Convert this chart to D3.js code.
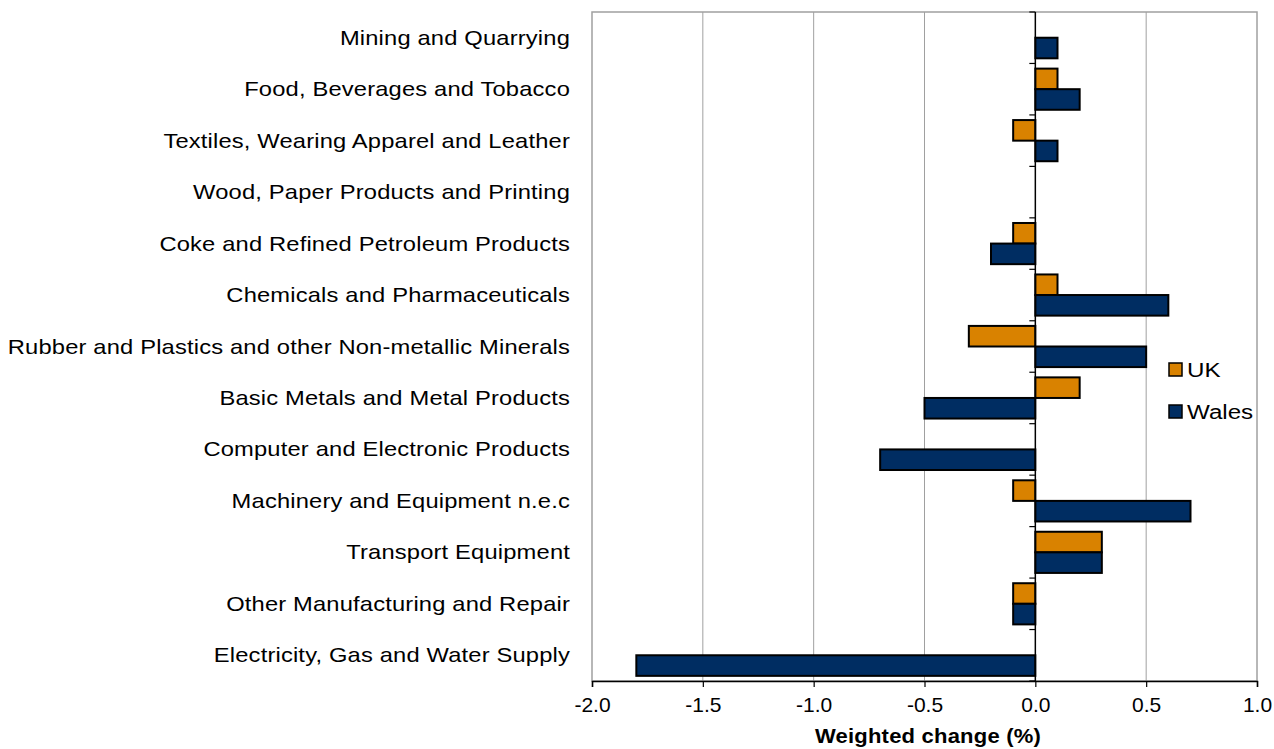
<!DOCTYPE html>
<html>
<head>
<meta charset="utf-8">
<style>
  body { margin: 0; background: #fff; }
  svg text { font-family: "Liberation Sans", Arial, sans-serif; fill: #000; }
</style>
</head>
<body>
<svg width="1274" height="749"></svg>
<script src="https://d3js.org/d3.v7.min.js"></script>
<script>
// categories, top to bottom
var categories = [
  "Mining and Quarrying",
  "Food, Beverages and Tobacco",
  "Textiles, Wearing Apparel and Leather",
  "Wood, Paper Products and Printing",
  "Coke and Refined Petroleum Products",
  "Chemicals and Pharmaceuticals",
  "Rubber and Plastics and other Non-metallic Minerals",
  "Basic Metals and Metal Products",
  "Computer and Electronic Products",
  "Machinery and Equipment n.e.c",
  "Transport Equipment",
  "Other Manufacturing and Repair",
  "Electricity, Gas and Water Supply"
];
var seriesNames = ["UK", "Wales"];
var ukValues    = [0, 0.1, -0.1, 0, -0.1, 0.1, -0.3, 0.2, 0, -0.1, 0.3, -0.1, 0];
var walesValues = [0.1, 0.2, 0.1, 0, -0.2, 0.6, 0.5, -0.5, -0.7, 0.7, 0.3, -0.1, -1.8];
var tickValues  = [-2.0, -1.5, -1.0, -0.5, 0.0, 0.5, 1.0];
var colors = {UK: "#d98200", Wales: "#002d62"};

var svg = d3.select("svg");
var plot = {left: 592, right: 1257, top: 12, bottom: 681};

var x = d3.scaleLinear().domain([-2, 1]).range([plot.left, plot.right]);
var y = d3.scaleBand().domain(categories).range([plot.top, plot.bottom]).paddingInner(0.2).paddingOuter(0.1);
var ySub = d3.scaleBand().domain(seriesNames).range([0, y.bandwidth()]);

var rows = categories.map(function(c, i) {
  return {cat: c, UK: ukValues[i], Wales: walesValues[i]};
});

// plot frame
svg.append("rect")
  .attr("x", plot.left).attr("y", plot.top)
  .attr("width", plot.right - plot.left).attr("height", plot.bottom - plot.top)
  .attr("fill", "none").attr("stroke", "#a0a0a0").attr("stroke-width", 1.5);

// vertical gridlines
svg.append("g").selectAll("line")
  .data(tickValues.filter(function(t) { return t !== 0 && t !== -2 && t !== 1; }))
  .enter().append("line")
  .attr("x1", function(d) { return x(d); }).attr("x2", function(d) { return x(d); })
  .attr("y1", plot.top).attr("y2", plot.bottom)
  .attr("stroke", "#a0a0a0").attr("stroke-width", 1);

// bars
var groups = svg.append("g").selectAll("g")
  .data(rows).enter().append("g")
  .attr("transform", function(d) { return "translate(0," + y(d.cat) + ")"; });

groups.selectAll("rect")
  .data(function(d) {
    return seriesNames.map(function(s) { return {s: s, v: d[s]}; }).filter(function(e) { return e.v !== 0; });
  })
  .enter().append("rect")
  .attr("x", function(d) { return x(Math.min(0, d.v)); })
  .attr("width", function(d) { return Math.abs(x(d.v) - x(0)); })
  .attr("y", function(d) { return ySub(d.s); })
  .attr("height", ySub.bandwidth())
  .attr("fill", function(d) { return colors[d.s]; })
  .attr("stroke", "#000").attr("stroke-width", 2);

// zero axis with category ticks
var bounds = d3.range(categories.length + 1).map(function(i) {
  return plot.top + i * (plot.bottom - plot.top) / categories.length;
});
svg.append("line")
  .attr("x1", x(0)).attr("x2", x(0))
  .attr("y1", plot.top).attr("y2", plot.bottom)
  .attr("stroke", "#000").attr("stroke-width", 1.5);
svg.append("g").selectAll("line")
  .data(bounds).enter().append("line")
  .attr("x1", x(0) - 6).attr("x2", x(0))
  .attr("y1", function(d) { return d; }).attr("y2", function(d) { return d; })
  .attr("stroke", "#000").attr("stroke-width", 1.2);

// category labels (glyphs are a bit wide in the original, so stretch them)
svg.append("g").selectAll("text")
  .data(categories).enter().append("text")
  .attr("transform", function(d) {
    return "translate(570," + (y(d) + y.bandwidth() / 2 + 7) + ") scale(1.13,1)";
  })
  .attr("text-anchor", "end")
  .attr("font-size", 21)
  .attr("letter-spacing", 0.15)
  .text(function(d) { return d; });

// bottom axis
var xAxis = svg.append("g")
  .attr("transform", "translate(0," + plot.bottom + ")")
  .call(d3.axisBottom(x).tickValues(tickValues).tickSize(6).tickPadding(10)
    .tickFormat(d3.format(".1f")));
xAxis.select(".domain").attr("stroke", "#000").attr("stroke-width", 1.5);
xAxis.selectAll(".tick line").attr("stroke", "#000").attr("stroke-width", 1.2);
xAxis.selectAll(".tick text")
  .attr("font-size", 21)
  .attr("font-family", "Liberation Sans, Arial, sans-serif")
  .text(function(d) { return d3.format(".1f")(d).replace("−", "-"); });

svg.append("text")
  .attr("transform", "translate(928,743) scale(1.1,1)")
  .attr("text-anchor", "middle")
  .attr("font-size", 20)
  .attr("font-weight", "bold")
  .attr("letter-spacing", 0.2)
  .text("Weighted change (%)");

// legend
var legend = svg.append("g").selectAll("g")
  .data(seriesNames).enter().append("g")
  .attr("transform", function(d, i) { return "translate(1169," + (363 + i * 42) + ")"; });
legend.append("rect")
  .attr("width", 13).attr("height", 13)
  .attr("fill", function(d) { return colors[d]; })
  .attr("stroke", "#000").attr("stroke-width", 1.5);
legend.append("text")
  .attr("transform", "translate(18,14) scale(1.15,1)")
  .attr("font-size", 21)
  .text(function(d) { return d; });
</script>
</body>
</html>
